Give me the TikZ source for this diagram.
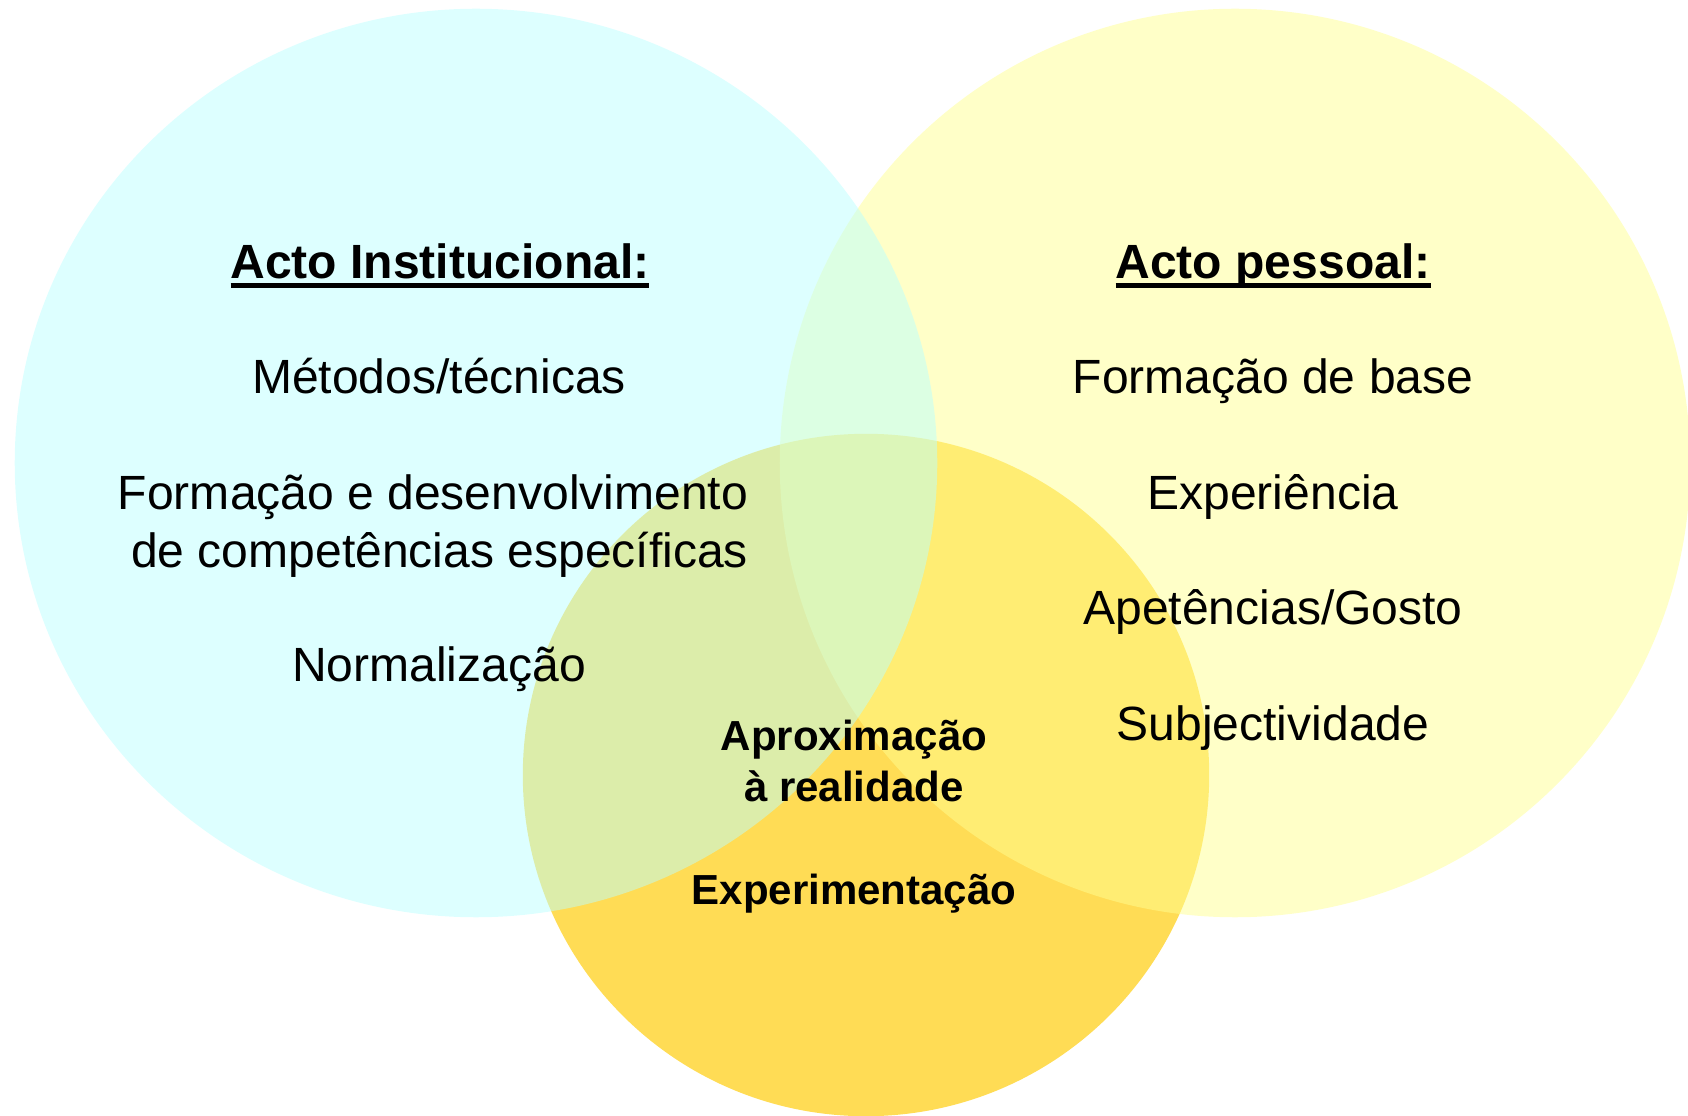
\documentclass[tikz,border=0pt]{standalone}
\usepackage{fontspec}
\setmainfont{Liberation Sans}
\usetikzlibrary{shapes.geometric}

\definecolor{instblue}{HTML}{BBFFFF}
\definecolor{persyellow}{HTML}{FFFF91}
\definecolor{realgold}{HTML}{FFDC55}

\newcommand{\titleul}[1]{\setbox0\hbox{#1}\rlap{\rule[-0.088cm]{\wd0}{0.044cm}}\box0}

\begin{document}
\begin{tikzpicture}[x=0.01cm,y=-0.01cm]

	\tikzstyle{blob}=[ellipse,inner sep=0pt,draw=none,fill opacity=0.5]
	\tikzstyle{item}=[inner sep=0pt,anchor=base,font=\fontsize{13.66}{16.5}\selectfont]
	\tikzstyle{head}=[item,font=\fontsize{13.66}{16.5}\selectfont\bfseries]
	\tikzstyle{core}=[inner sep=0pt,align=center,font=\fontsize{11.95}{14.5}\selectfont\bfseries]

	\useasboundingbox (0,0) rectangle (1688,1116);
	\clip (0,0) rectangle (1688,1116);

	% the three sets
	\node[blob, fill=realgold, fill opacity=1, minimum width=6.86cm, minimum height=6.82cm] (real) at (866,775) {};
	\node[blob, fill=persyellow, minimum width=9.10cm, minimum height=9.08cm] (pers) at (1235,463) {};
	\node[blob, fill=instblue, minimum width=9.22cm, minimum height=9.08cm] (inst) at (476,463) {};

	% left set
	\node[head] (insttitle) at (440,279) {\titleul{Acto Institucional:}};
	\node[item] (metodos) at (439,394) {Métodos/técnicas};
	\node[item, anchor=center, align=right] (formacao) at (433,526) {Formação e desenvolvimento\\ de competências específicas};
	\node[item] (normal) at (439,682) {Normalização};

	% right set
	\node[head] (perstitle) at (1273,279) {\titleul{Acto pessoal:}};
	\node[item] (base) at (1273,394) {Formação de base};
	\node[item] (exper) at (1273,510) {Experiência};
	\node[item] (apet) at (1273,625) {Apetências/Gosto};
	\node[item] (subj) at (1273,740) {Subjectividade};

	% bottom set
	\node[core] (aprox) at (854,761) {Aproximação\\à realidade};
	\node[core, anchor=base] (experim) at (854,904) {Experimentação};
\end{tikzpicture}
\end{document}
